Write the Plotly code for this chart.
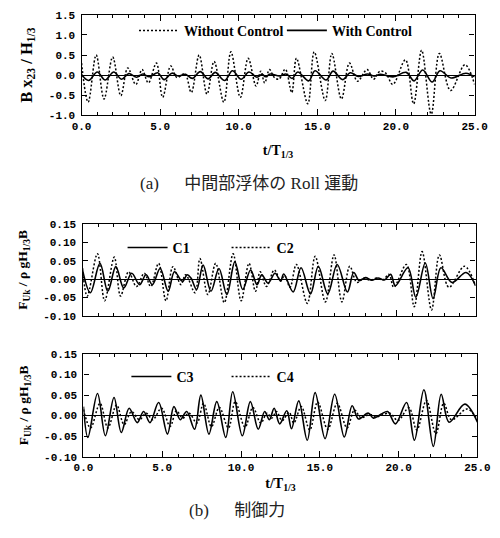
import plotly.graph_objects as go

# ---------------- data ----------------
# Panel (a): roll motion  B x23 / H1/3
t_wo = [0.0, 0.42, 0.93, 1.43, 1.98, 2.50, 2.94, 3.45, 3.85, 4.25, 4.76, 5.16, 5.67, 6.07, 6.57,
        6.98, 7.48, 7.98, 8.43, 9.05, 9.50, 10.10, 10.60, 11.10, 11.40, 11.65, 11.95, 12.25, 12.55,
        12.96, 13.37, 13.67, 14.39, 14.80, 15.50, 15.92, 16.53, 17.04, 17.55, 18.16, 18.57, 18.98,
        19.35, 19.80, 20.60, 21.12, 21.63, 22.24, 22.76, 23.47, 24.39, 25.0]
roll_without = [0.30, -0.67, 0.50, -0.59, 0.45, -0.51, 0.18, -0.23, 0.14, -0.19, 0.30, -0.55, 0.23,
                -0.06, 0.04, -0.43, 0.50, -0.47, 0.34, -0.67, 0.58, -0.55, 0.42, -0.27, 0.10, -0.19,
                0.14, -0.05, -0.10, 0.15, -0.43, 0.42, -0.71, 0.58, -0.63, 0.54, -0.59, 0.30, -0.15,
                0.14, -0.10, 0.10, 0.05, -0.23, 0.38, -0.71, 0.62, -0.97, 0.54, -0.38, 0.26, -0.23]

t_w = [0.0, 0.45, 1.0, 1.5, 2.05, 2.55, 3.0, 3.5, 3.9, 4.3, 4.85, 5.25, 5.75, 6.15, 6.6, 7.05, 7.55,
       8.05, 8.5, 9.1, 9.6, 10.15, 10.65, 11.15, 11.5, 11.7, 12.0, 12.6, 13.0, 13.4, 13.75, 14.45,
       14.85, 15.55, 16.0, 16.6, 17.1, 17.6, 18.2, 18.6, 19.0, 19.4, 19.85, 20.65, 21.15, 21.7, 22.3,
       22.8, 23.5, 24.45, 25.0]
roll_with = [0.02, -0.13, 0.08, -0.12, 0.08, -0.10, 0.04, -0.05, 0.03, -0.04, 0.06, -0.11, 0.05,
             -0.02, 0.02, -0.08, 0.09, -0.09, 0.07, -0.13, 0.11, -0.10, 0.08, -0.05, 0.02, -0.04,
             0.03, -0.02, 0.03, -0.08, 0.08, -0.14, 0.11, -0.12, 0.10, -0.11, 0.06, -0.03, 0.03,
             -0.02, 0.02, -0.01, -0.04, 0.07, -0.14, 0.13, -0.17, 0.11, -0.07, 0.05, -0.04]

# Panel (b) upper: control force C1, C2
t_c1 = [0.0, 0.50, 1.11, 1.61, 2.12, 2.62, 3.13, 3.63, 4.04, 4.44, 4.94, 5.45, 5.85, 6.36, 6.66,
        6.90, 7.26, 7.67, 8.17, 8.68, 9.18, 9.69, 10.19, 10.69, 11.10, 11.40, 11.80, 12.25, 12.60,
        12.80, 13.40, 13.90, 14.50, 15.00, 15.60, 16.20, 16.85, 17.25, 17.60, 18.00, 18.40, 18.80,
        19.20, 19.60, 19.90, 20.70, 21.20, 21.80, 22.30, 22.80, 23.50, 24.40, 25.0]
force_c1 = [0.025, -0.037, 0.043, -0.033, 0.034, -0.024, 0.016, -0.015, 0.012, -0.015, 0.029,
            -0.033, 0.020, -0.006, 0.012, 0.003, -0.028, 0.038, -0.033, 0.029, -0.042, 0.047,
            -0.028, 0.025, -0.015, 0.012, -0.011, 0.016, -0.005, 0.014, -0.035, 0.031, -0.040,
            0.035, -0.040, 0.040, -0.035, 0.018, -0.004, 0.004, -0.003, 0.003, -0.002, 0.013,
            -0.018, 0.031, -0.049, 0.044, -0.053, 0.031, -0.009, 0.018, -0.018]

t_c2 = [0.0, 0.30, 0.95, 1.41, 2.02, 2.42, 2.93, 3.43, 3.93, 4.34, 4.84, 5.31, 5.75, 6.26, 6.56,
        7.16, 7.47, 7.97, 8.47, 9.02, 9.58, 10.09, 10.59, 11.00, 11.30, 11.70, 12.20, 12.60, 12.85,
        13.20, 13.60, 14.30, 14.80, 15.45, 16.00, 16.50, 17.00, 17.45, 17.90, 18.30, 18.70, 19.10,
        19.50, 19.80, 20.60, 21.10, 21.60, 22.20, 22.70, 23.30, 24.30, 25.0]
force_c2 = [0.030, -0.046, 0.069, -0.059, 0.060, -0.046, 0.020, -0.020, 0.016, -0.020, 0.043,
            -0.059, 0.034, -0.015, 0.012, -0.037, 0.056, -0.042, 0.043, -0.064, 0.069, -0.059,
            0.043, -0.033, 0.020, -0.020, 0.025, -0.005, 0.010, -0.022, 0.040, -0.066, 0.062,
            -0.062, 0.066, -0.062, 0.035, -0.009, 0.003, -0.003, 0.003, -0.002, 0.013, -0.022,
            0.040, -0.075, 0.075, -0.084, 0.066, -0.022, 0.035, -0.018]

# Panel (b) lower: control force C3, C4
t_c3 = [0.0, 0.28, 0.89, 1.39, 1.94, 2.40, 2.90, 3.41, 3.82, 4.22, 4.77, 5.33, 5.74, 6.14, 6.55,
        7.05, 7.45, 7.96, 8.46, 9.03, 9.47, 10.08, 10.59, 11.09, 11.50, 11.80, 12.10, 12.45, 12.90,
        13.20, 13.66, 14.20, 14.70, 15.33, 15.94, 16.55, 17.05, 17.45, 18.06, 18.40, 18.90, 19.30,
        19.80, 20.50, 21.00, 21.60, 22.20, 22.70, 23.20, 24.20, 25.0]
force_c3 = [0.022, -0.053, 0.054, -0.049, 0.044, -0.041, 0.018, -0.017, 0.010, -0.017, 0.032,
            -0.045, 0.022, -0.010, 0.010, -0.033, 0.050, -0.045, 0.034, -0.053, 0.058, -0.049,
            0.034, -0.033, 0.010, -0.010, 0.018, -0.020, 0.012, -0.032, 0.036, -0.060, 0.056,
            -0.056, 0.052, -0.052, 0.024, -0.008, 0.006, -0.006, 0.004, 0.010, -0.020, 0.032,
            -0.060, 0.063, -0.075, 0.052, -0.016, 0.028, -0.016]

t_c4 = [0.0, 0.45, 1.05, 1.55, 2.10, 2.58, 3.05, 3.55, 3.98, 4.40, 4.95, 5.50, 5.90, 6.30, 6.70,
        7.20, 7.62, 8.12, 8.62, 9.20, 9.63, 10.25, 10.75, 11.25, 11.65, 11.95, 12.25, 12.60, 13.05,
        13.35, 13.82, 14.36, 14.86, 15.50, 16.10, 16.72, 17.20, 17.60, 18.20, 18.60, 19.00, 19.45,
        19.95, 20.65, 21.15, 21.76, 22.36, 22.86, 23.35, 24.35, 25.0]
force_c4 = [0.015, -0.030, 0.030, -0.030, 0.026, -0.022, 0.010, -0.010, 0.006, -0.010, 0.018,
            -0.026, 0.012, -0.006, 0.006, -0.018, 0.030, -0.027, 0.020, -0.030, 0.034, -0.028,
            0.020, -0.018, 0.006, -0.006, 0.010, -0.012, 0.008, -0.018, 0.022, -0.035, 0.033,
            -0.033, 0.030, -0.030, 0.014, -0.005, 0.003, -0.003, 0.002, 0.006, -0.012, 0.019,
            -0.035, 0.037, -0.044, 0.030, -0.010, 0.016, -0.010]

# tick labels
x_tick_vals = [0, 5, 10, 15, 20, 25]
x_tick_text = ["0.0", "5.0", "10.0", "15.0", "20.0", "25.0"]
roll_tick_vals = [-1.0, -0.5, 0.0, 0.5, 1.0, 1.5]
roll_tick_text = ["-1.0", "-0.5", "0.0", "0.5", "1.0", "1.5"]
force_tick_vals = [-0.10, -0.05, 0.0, 0.05, 0.10, 0.15]
force_tick_text = ["-0.10", "-0.05", "0.00", "0.05", "0.10", "0.15"]

# ---------------- figure ----------------
W, H = 500, 538
SERIF = "Liberation Serif"
MONO = "Liberation Mono"


def px_x(p):
    return p / W


def px_y(p):
    return 1 - p / H


def line_style(dashed):
    if dashed:
        return dict(color="black", width=1.5, dash="2px,2px", shape="spline", smoothing=1.0)
    return dict(color="black", width=1.6, shape="spline", smoothing=1.0)


series = [
    # (x, y, name, dashed, xaxis, yaxis, legend id)
    (t_wo, roll_without, "Without Control", True, "x", "y", "legend"),
    (t_w, roll_with, "With Control", False, "x", "y", "legend2"),
    (t_c1, force_c1, "C1", False, "x2", "y2", "legend3"),
    (t_c2, force_c2, "C2", True, "x2", "y2", "legend4"),
    (t_c3, force_c3, "C3", False, "x3", "y3", "legend5"),
    (t_c4, force_c4, "C4", True, "x3", "y3", "legend6"),
]

fig = go.Figure()
for xs, ys, name, dashed, xa, ya, lg in series:
    fig.add_trace(go.Scatter(x=xs, y=ys, mode="lines", name=name, line=line_style(dashed),
                             xaxis=xa, yaxis=ya, legend=lg))

tickfont = dict(family=MONO, size=11, color="black", weight="bold")


def xaxis(dom, anchor, labels, title=None, standoff=4):
    d = dict(domain=dom, anchor=anchor, range=[0, 25], tickmode="array",
             tickvals=x_tick_vals, ticktext=x_tick_text, showticklabels=labels,
             ticklabeloverflow="allow",
             ticks="inside", ticklen=6, tickwidth=1.2, tickcolor="black",
             showline=True, linecolor="black", linewidth=1.3, mirror="allticks",
             showgrid=False, zeroline=False, tickfont=tickfont,
             minor=dict(tickmode="linear", tick0=0, dtick=1, ticks="inside", ticklen=3,
                        tickwidth=1, tickcolor="black", showgrid=False))
    if title:
        d["title"] = dict(text=title, font=dict(family=SERIF, size=14, color="black",
                                                weight="bold"), standoff=standoff)
    return d


def yaxis(dom, anchor, rng, vals, text, title, size, standoff):
    return dict(domain=dom, anchor=anchor, range=rng, tickmode="array",
                tickvals=vals, ticktext=text, ticks="inside", ticklen=5, tickwidth=1.2,
                tickcolor="black", showline=True, linecolor="black", linewidth=1.3,
                mirror="allticks", showgrid=False, zeroline=True, zerolinecolor="black",
                zerolinewidth=1.2, tickfont=tickfont, ticklabelstandoff=3,
                title=dict(text=title, font=dict(family=SERIF, size=size, color="black",
                                                 weight="bold"), standoff=standoff))


def legend_at(left_px, top_px):
    return dict(x=px_x(left_px), y=px_y(top_px), xanchor="left", yanchor="top",
                orientation="h", bgcolor="rgba(0,0,0,0)", borderwidth=0,
                font=dict(family=SERIF, size=14, color="black", weight="bold"),
                itemwidth=40)


fig.update_layout(
    width=W, height=H, margin=dict(l=0, r=0, t=0, b=0),
    paper_bgcolor="white", plot_bgcolor="white",
    xaxis=xaxis([px_x(75), px_x(487)], "y", True, "t/T<sub>1/3</sub>", standoff=13),
    yaxis=yaxis([px_y(113), px_y(10)], "x", [-1.0, 1.5], roll_tick_vals, roll_tick_text,
                "B x<sub>23</sub> / H<sub>1/3</sub>", 16.5, 12),
    xaxis2=xaxis([px_x(76), px_x(488)], "y2", False),
    yaxis2=yaxis([px_y(318), px_y(224)], "x2", [-0.10, 0.15], force_tick_vals, force_tick_text,
                 "F<sub>Uk</sub> / ρ gH<sub>1/3</sub>B", 13.5, 12),
    xaxis3=xaxis([px_x(77), px_x(490)], "y3", True, "t/T<sub>1/3</sub>", standoff=5),
    yaxis3=yaxis([px_y(462), px_y(357)], "x3", [-0.10, 0.15], force_tick_vals, force_tick_text,
                 "F<sub>Uk</sub> / ρ gH<sub>1/3</sub>B", 13.5, 12),
    legend=legend_at(130, 10),
    legend2=legend_at(285, 10),
    legend3=legend_at(118, 232),
    legend4=legend_at(227, 232),
    legend5=legend_at(122, 364),
    legend6=legend_at(227, 364),
    showlegend=True,
)

caption_font = dict(family="Liberation Serif, Noto Sans CJK JP", size=17, color="#222222")
fig.add_annotation(text="(a)\u3000\u2002中間部浮体の Roll 運動", xref="paper", yref="paper",
                   x=px_x(250), y=px_y(183), showarrow=False, font=caption_font,
                   xanchor="center", yanchor="middle")
fig.add_annotation(text="(b)\u3000\u2002制御力", xref="paper", yref="paper",
                   x=px_x(238), y=px_y(517), showarrow=False, font=caption_font,
                   xanchor="center", yanchor="middle")

fig.write_html("out.html")
